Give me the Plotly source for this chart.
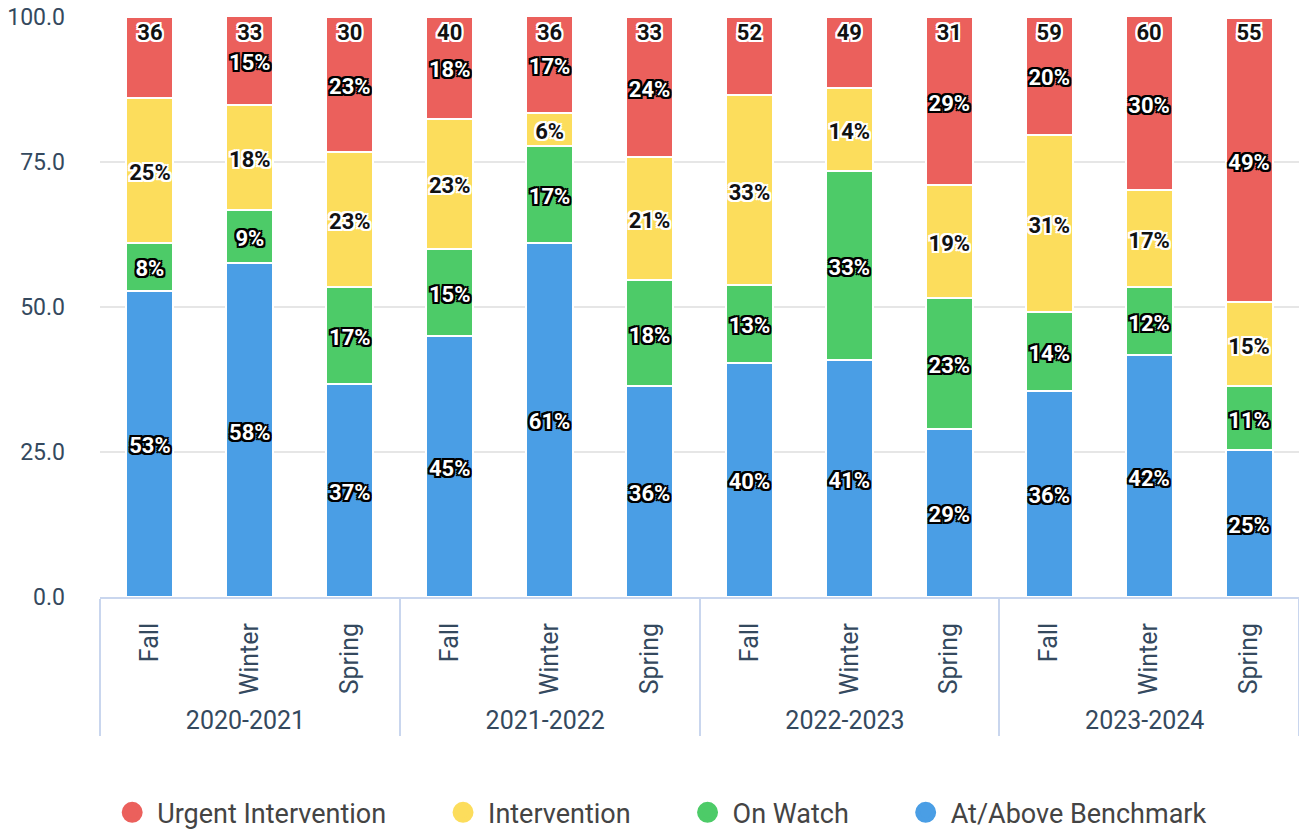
import plotly.graph_objects as go

# --- data ---
years = ["2020-2021"] * 3 + ["2021-2022"] * 3 + ["2022-2023"] * 3 + ["2023-2024"] * 3
seasons = ["Fall", "Winter", "Spring"] * 4
totals = [36, 33, 30, 40, 36, 33, 52, 49, 31, 59, 60, 55]

at_above = [52.8, 57.6, 36.7, 45.0, 61.1, 36.4, 40.4, 40.8, 29.0, 35.6, 41.7, 25.4]
on_watch = [8.3, 9.1, 16.7, 15.0, 16.7, 18.2, 13.4, 32.7, 22.6, 13.6, 11.7, 10.9]
intervention = [25.0, 18.2, 23.3, 22.5, 5.6, 21.2, 32.7, 14.3, 19.4, 30.5, 16.7, 14.5]
urgent = [13.9, 15.2, 23.3, 17.5, 16.7, 24.2, 13.5, 12.2, 29.0, 20.3, 30.0, 49.1]

# --- estilos ---
COL_BLUE = "#4A9EE5"
COL_GREEN = "#4DCB68"
COL_YELLOW = "#FCDD5C"
COL_RED = "#EB605C"
AXIS_TEXT = "#34495E"
AXIS_LINE = "#C9D6EE"
FONT = "Roboto"
LEGEND_PAD = "\u00a0" * 7   # espaço extra entre itens da legenda
LABEL_NUDGE = -0.7          # desce um pouco os rótulos (unidades do eixo y)
TOTAL_NUDGE = -1.2


def outline(color, w=2):
    offs = [(-w, -w), (0, -w), (w, -w), (-w, 0), (w, 0), (-w, w), (0, w), (w, w)]
    return ", ".join(f"{dx}px {dy}px 0 {color}" for dx, dy in offs)


WHITE_LBL = dict(family=FONT, size=22, color="white", weight="bold", shadow=outline("#000"))
BLACK_LBL = dict(family=FONT, size=22, color="#111", weight="bold", shadow=outline("#fff"))


def pct(vals, hide_below=0):
    return [f"{int(v + 0.5)}%" if v >= hide_below else "" for v in vals]


x = [years, seasons]
series = [
    ("At/Above Benchmark", at_above, COL_BLUE, WHITE_LBL, 0),
    ("On Watch", on_watch, COL_GREEN, WHITE_LBL, 0),
    ("Intervention", intervention, COL_YELLOW, BLACK_LBL, 0),
    ("Urgent Intervention", urgent, COL_RED, WHITE_LBL, 15),  # rótulo some quando colide com o total
]

fig = go.Figure()
for name, vals, color, font, hide in series:
    fig.add_trace(go.Bar(
        x=x, y=vals, name=name, showlegend=False,
        marker=dict(color=color, line=dict(color="white", width=2)),
        hoverinfo="x+y",
    ))

# rótulos de % no meio de cada segmento (texto pode passar da largura da barra)
base = [0.0] * len(totals)
for name, vals, color, font, hide in series:
    mids = [b + v / 2 + LABEL_NUDGE for b, v in zip(base, vals)]
    fig.add_trace(go.Scatter(
        x=x, y=mids, mode="text", text=pct(vals, hide), textposition="middle center",
        textfont=font, showlegend=False, hoverinfo="skip", cliponaxis=False,
    ))
    base = [b + v for b, v in zip(base, vals)]

# totais no topo de cada barra
fig.add_trace(go.Scatter(
    x=x, y=[100 + TOTAL_NUDGE] * len(totals), mode="text", text=[str(t) for t in totals],
    textposition="bottom center", textfont=BLACK_LBL, showlegend=False,
    hoverinfo="skip", cliponaxis=False,
))

# legenda com marcadores redondos
for i, (name, vals, color, font, hide) in enumerate(reversed(series)):
    fig.add_trace(go.Scatter(
        x=[None], y=[None], mode="markers",
        name=name + (LEGEND_PAD if i < 3 else ""),
        marker=dict(color=color, size=16, symbol="circle", line=dict(color=color, width=5)),
    ))

fig.update_layout(
    width=1299, height=832,
    barmode="stack", bargap=0.53,
    paper_bgcolor="white", plot_bgcolor="white",
    font=dict(family=FONT, color=AXIS_TEXT),
    margin=dict(l=100, r=0, t=17, b=235, autoexpand=False),
    legend=dict(
        orientation="h", x=0.006, xanchor="left", y=-0.372, yanchor="middle",
        font=dict(size=27, color="#444"), traceorder="normal",
        itemsizing="trace", itemwidth=40,
    ),
)
fig.update_yaxes(
    range=[0, 100], tickvals=[0, 25, 50, 75, 100], tickformat=".1f",
    showgrid=True, gridcolor="#E6E6E6", gridwidth=2, zeroline=False,
    tickfont=dict(size=23, color=AXIS_TEXT), ticks="", ticklabelstandoff=34,
    automargin=False,
)
fig.update_xaxes(
    type="multicategory", range=[-0.5, len(totals) - 0.5],
    showline=True, linecolor=AXIS_LINE, linewidth=2,
    dividercolor=AXIS_LINE, dividerwidth=2, tickangle=-90,
    tickfont=dict(size=25, color=AXIS_TEXT), showgrid=False,
    ticklabelstandoff=14, automargin=False,
)

fig.write_html(
    "out.html",
    config={"displayModeBar": False},
    post_script="document.body.style.margin='0';",
)
